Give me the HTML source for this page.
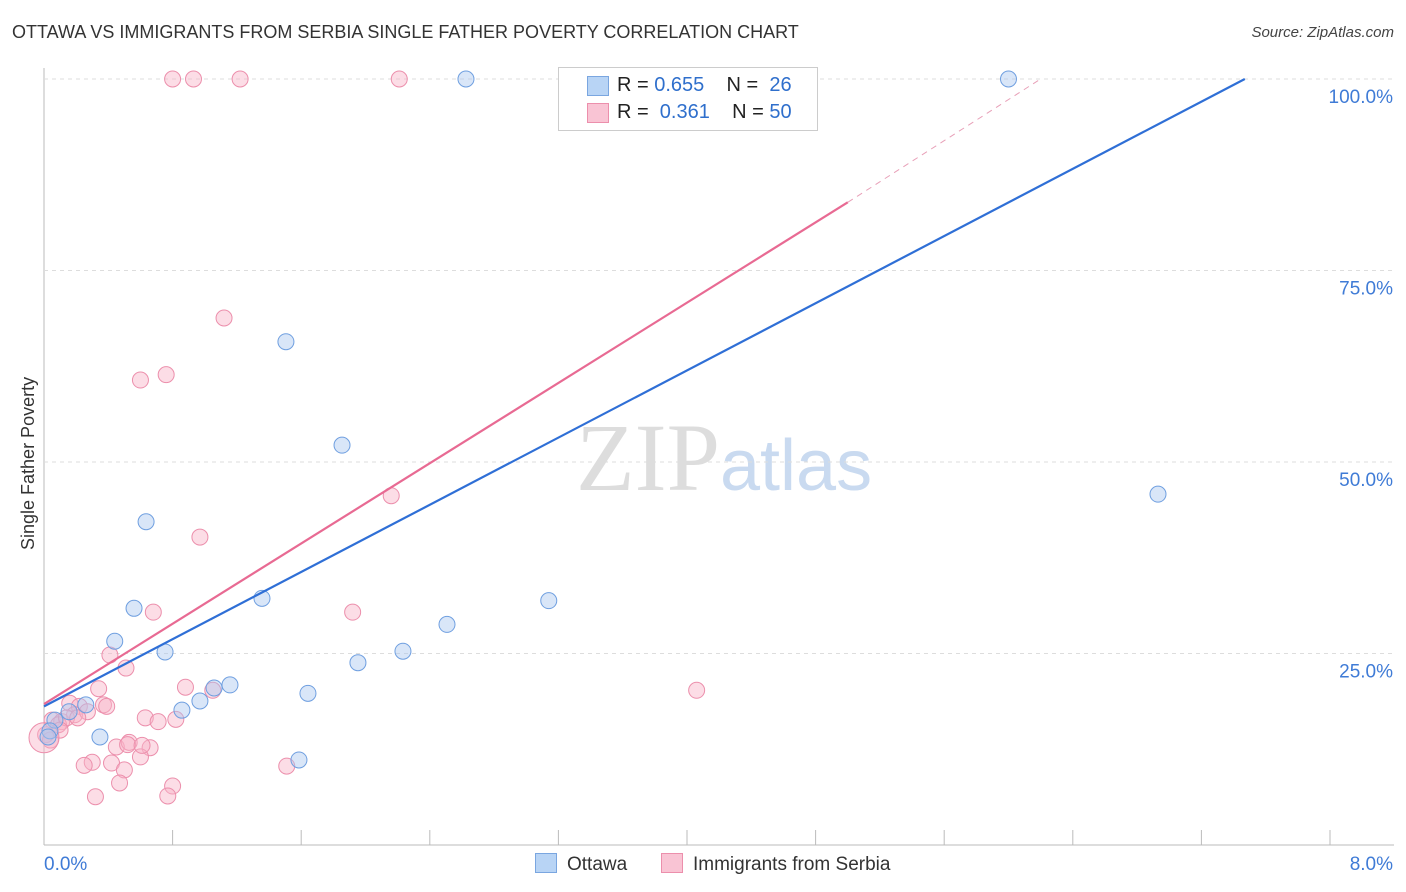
<!DOCTYPE html>
<html><head><meta charset="utf-8"><style>
body{margin:0;background:#fff;font-family:"Liberation Sans",sans-serif}
#wrap{position:relative;width:1406px;height:892px;overflow:hidden}
.t{position:absolute;white-space:nowrap}
</style></head><body>
<div id="wrap">
<div class="t" style="left:12px;top:22px;font-size:18px;color:#333">OTTAWA VS IMMIGRANTS FROM SERBIA SINGLE FATHER POVERTY CORRELATION CHART</div>
<div class="t" style="right:12px;top:24px;font-size:15px;color:#444;font-style:italic">Source: ZipAtlas.com</div>
<svg id="svg" width="1406" height="892" style="position:absolute;left:0;top:0">
<text x="720" y="490" font-size="96" fill="#ddd" text-anchor="end" font-family="Liberation Serif">ZIP</text>
<text x="720" y="490" font-size="72" fill="#c9daf0" font-family="Liberation Sans">atlas</text>
<g id="grid"></g><g id="marks"></g>
</svg>
<div class="t" style="left:558px;top:67px;width:258px;height:62px;border:1px solid #ccc;background:#fff;font-size:20px">
<div style="position:absolute;left:28px;top:8px;width:20px;height:18px;background:#b8d4f5;border:1px solid #7aa6e0"></div>
<div class="t" style="left:58px;top:6px;color:#222">R = <span style="color:#2f6fcc">0.655</span>&nbsp;&nbsp;&nbsp; N = &nbsp;<span style="color:#2f6fcc">26</span></div>
<div style="position:absolute;left:28px;top:35px;width:20px;height:18px;background:#f9c4d4;border:1px solid #ec8fac"></div>
<div class="t" style="left:58px;top:33px;color:#222">R = &nbsp;<span style="color:#2f6fcc">0.361</span>&nbsp;&nbsp;&nbsp; N = <span style="color:#2f6fcc">50</span></div>
</div>
<div class="t" style="left:535px;top:853px;font-size:19px;color:#333"><span style="display:inline-block;width:20px;height:18px;background:#b8d4f5;border:1px solid #7aa6e0;vertical-align:-3px;margin-right:10px"></span>Ottawa</div>
<div class="t" style="left:661px;top:853px;font-size:19px;color:#333"><span style="display:inline-block;width:20px;height:18px;background:#f9c4d4;border:1px solid #ec8fac;vertical-align:-3px;margin-right:10px"></span>Immigrants from Serbia</div>
<div class="t" style="left:18px;top:550px;font-size:18px;color:#333;transform:rotate(-90deg);transform-origin:0 0">Single Father Poverty</div>
</div>
<script>
const yTicks=[25,50,75,100];
const yTickLabels=["25.0%","50.0%","75.0%","100.0%"];
const xLabels=["0.0%","8.0%"];
const ottX=[2.625,6.0,1.505,1.854,0.635,6.93,1.356,3.14,0.56,2.507,0.44,0.753,2.233,1.953,1.157,1.058,1.642,0.97,0.858,0.26,0.156,0.068,0.348,1.586,0.037,0.025];
const ottY=[100,100,65.7,52.2,42.2,45.8,32.2,31.9,30.9,28.8,26.6,25.2,25.3,23.8,20.9,20.5,19.8,18.8,17.6,18.3,17.4,16.3,14.1,11.1,14.9,14.1];
const serX=[0.80,0.93,1.22,2.21,1.12,0.60,0.76,2.16,0.97,0.68,1.92,0.41,0.51,4.06,0.88,0.34,1.05,0.16,0.22,0.37,0.63,0.82,0.05,0.11,0.19,0.45,0.53,0.71,0.66,0.30,0.25,0.42,0.50,1.51,0.80,0.47,0.77,0.32,0.01,0.04,0.09,0.27,0.14,0.60,0.10,0.21,0.52,0.39,0.61,0.0];
const serY=[100,100,100,100,68.8,60.7,61.4,45.6,40.2,30.4,30.4,24.8,23.1,20.2,20.6,20.4,20.2,18.5,18.1,18.3,16.6,16.4,16.3,16.1,17.0,12.8,13.4,16.1,12.7,10.8,10.4,10.7,9.8,10.3,7.7,8.1,6.4,6.3,14.4,13.7,15.7,17.4,16.6,11.5,15.0,16.6,13.1,18.1,13.0,14.0];
const ottLine=[0,18.1,7.47,100];
const serLine=[0,18.4,5.0,83.9,6.2,100];
const X=v=>44+v*160.75, Y=v=>845-v*7.66;
const NS="http://www.w3.org/2000/svg";
function mk(tag,attrs,parent){const e=document.createElementNS(NS,tag);for(const k in attrs)e.setAttribute(k,attrs[k]);document.getElementById(parent).appendChild(e);return e;}
let e;
e=mk('line',{x1:44,y1:845,x2:1394,y2:845,stroke:'#bbb'},'grid');


e=mk('line',{x1:44,y1:68,x2:44,y2:845,stroke:'#bbb'},'grid');


for(let i=0;i<=10;i++){e=mk('line',{x1:X(i*0.8),y1:830,x2:X(i*0.8),y2:845,stroke:'#bbb'},'grid');

}
yTicks.forEach((v,i)=>{e=mk('line',{x1:44,y1:Y(v),x2:1394,y2:Y(v),stroke:'#ddd','stroke-dasharray':'4,4'},'grid');


e=mk('text',{x:1393,y:Y(v)+24,'text-anchor':'end','font-size':19,fill:'#3f7bd6'},'grid');e.textContent=yTickLabels[i];

});
e=mk('text',{x:44,y:870,'font-size':19,fill:'#3f7bd6'},'grid');e.textContent=xLabels[0];


e=mk('text',{x:1393,y:870,'font-size':19,fill:'#3f7bd6','text-anchor':'end'},'grid');e.textContent=xLabels[1];


serX.forEach((x,i)=>{const r=(i===serX.length-1)?15:8;e=mk('circle',{cx:X(x),cy:Y(serY[i]),r:r,fill:'rgba(249,180,200,0.45)',stroke:'#ec8fac','stroke-width':1},'marks');

});
ottX.forEach((x,i)=>{e=mk('circle',{cx:X(x),cy:Y(ottY[i]),r:8,fill:'rgba(170,200,240,0.45)',stroke:'#6f9fe0','stroke-width':1},'marks');

});
e=mk('line',{x1:X(ottLine[0]),y1:Y(ottLine[1]),x2:X(ottLine[2]),y2:Y(ottLine[3]),stroke:'#2f6fd6','stroke-width':2.2},'marks');


e=mk('line',{x1:X(serLine[0]),y1:Y(serLine[1]),x2:X(serLine[2]),y2:Y(serLine[3]),stroke:'#e86a93','stroke-width':2.2},'marks');


e=mk('line',{x1:X(serLine[2]),y1:Y(serLine[3]),x2:X(serLine[4]),y2:Y(serLine[5]),stroke:'#e8a0b8','stroke-width':1,'stroke-dasharray':'6,5'},'marks');


</script>
</body></html>
